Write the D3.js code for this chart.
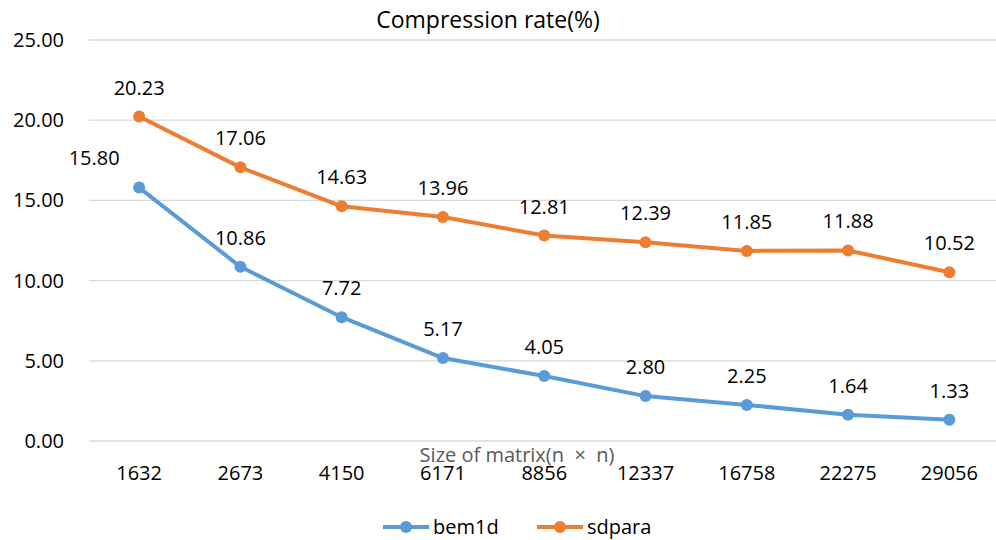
<!DOCTYPE html>
<html>
<head>
<meta charset="utf-8">
<script src="https://cdn.jsdelivr.net/npm/d3@7"></script>
<style>
  body { margin: 0; background: #fff; }
  svg { font-family: "Open Sans", "Liberation Sans", sans-serif; }
</style>
</head>
<body>
<svg width="996" height="540"></svg>
<script>
// chart data
var sizes = ["1632", "2673", "4150", "6171", "8856", "12337", "16758", "22275", "29056"];
var bem1d = [15.80, 10.86, 7.72, 5.17, 4.05, 2.80, 2.25, 1.64, 1.33];
var sdpara = [20.23, 17.06, 14.63, 13.96, 12.81, 12.39, 11.85, 11.88, 10.52];
var yTicks = [0, 5, 10, 15, 20, 25];

var series = [
  { name: "bem1d", values: bem1d, color: "#5b9bd5" },
  { name: "sdpara", values: sdpara, color: "#ed7d31" }
];

var svg = d3.select("svg");
var plotLeft = 89, plotRight = 996, plotTop = 40, plotBottom = 441;

var x = d3.scalePoint()
    .domain(sizes)
    .range([plotLeft - 0.5, 1000])
    .padding(0.5);

var y = d3.scaleLinear().domain([0, 25]).range([plotBottom, plotTop]);

// gridlines
svg.append("g")
  .selectAll("line")
  .data(yTicks)
  .enter().append("line")
    .attr("x1", plotLeft).attr("x2", plotRight)
    .attr("y1", function(d) { return y(d); })
    .attr("y2", function(d) { return y(d); })
    .attr("stroke", "#d9d9d9")
    .attr("stroke-width", 1.3);

// y labels
svg.append("g")
  .selectAll("text")
  .data(yTicks)
  .enter().append("text")
    .attr("x", 64)
    .attr("y", function(d) { return y(d); })
    .attr("dy", "0.35em")
    .attr("text-anchor", "end")
    .attr("font-size", 20)
    .attr("fill", "#000")
    .text(function(d) { return d3.format(".2f")(d); });

// x labels
svg.append("g")
  .selectAll("text")
  .data(sizes)
  .enter().append("text")
    .attr("x", function(d) { return x(d); })
    .attr("y", 473)
    .attr("dy", "0.35em")
    .attr("text-anchor", "middle")
    .attr("font-size", 20)
    .text(function(d) { return d; });

// axis title
svg.append("text")
  .attr("x", 517).attr("y", 460)
  .attr("dy", "0.1em")
  .attr("text-anchor", "middle")
  .attr("font-size", 20)
  .attr("fill", "#595959")
  .text("Size of matrix(n  ×  n)")
  .style("white-space", "pre");

// chart title
svg.append("text")
  .attr("x", 488).attr("y", 28)
  .attr("text-anchor", "middle")
  .attr("font-size", 23)
  .text("Compression rate(%)");

var line = d3.line()
    .x(function(d, i) { return x(sizes[i]); })
    .y(function(d) { return y(d); });

series.forEach(function(s) {
  var g = svg.append("g");
  g.append("path")
    .datum(s.values)
    .attr("d", line)
    .attr("fill", "none")
    .attr("stroke", s.color)
    .attr("stroke-width", 4)
    .attr("stroke-linejoin", "round");

  g.selectAll("circle")
    .data(s.values)
    .enter().append("circle")
      .attr("cx", function(d, i) { return x(sizes[i]); })
      .attr("cy", function(d) { return y(d); })
      .attr("r", 6)
      .attr("fill", s.color);

  g.selectAll("text")
    .data(s.values)
    .enter().append("text")
      .attr("x", function(d, i) {
        // first bem1d label sits left of the point, away from the orange line
        return (s.name == "bem1d" && i == 0) ? x(sizes[i]) - 45 : x(sizes[i]);
      })
      .attr("y", function(d, i) {
        return (s.name == "bem1d" && i == 0) ? y(d) - 30 : y(d) - 29;
      })
      .attr("dy", "0.35em")
      .attr("text-anchor", "middle")
      .attr("font-size", 20)
      .text(function(d) { return d3.format(".2f")(d); });
});

// legend
var legend = svg.append("g");
var legendX = [383, 537];
series.forEach(function(s, i) {
  var lx = legendX[i];
  legend.append("line")
    .attr("x1", lx).attr("x2", lx + 46)
    .attr("y1", 527).attr("y2", 527)
    .attr("stroke", s.color)
    .attr("stroke-width", 4);
  legend.append("circle")
    .attr("cx", lx + 23).attr("cy", 527)
    .attr("r", 6)
    .attr("fill", s.color);
  legend.append("text")
    .attr("x", lx + 50).attr("y", 527)
    .attr("dy", "0.35em")
    .attr("font-size", 20)
    .text(s.name);
});
</script>
</body>
</html>
